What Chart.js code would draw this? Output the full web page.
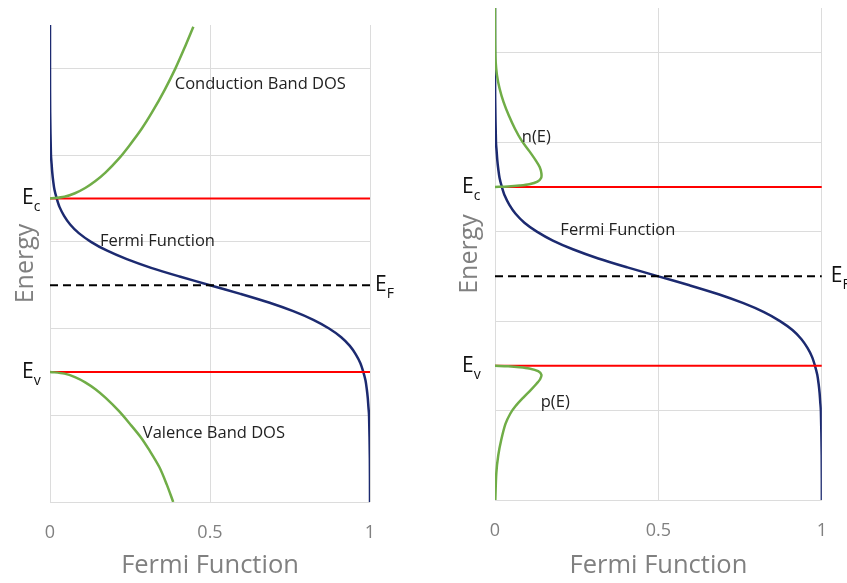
<!DOCTYPE html>
<html>
<head>
<meta charset="utf-8">
<title>Fermi Function</title>
<script src="https://cdn.jsdelivr.net/npm/chart.js@4.4.1/dist/chart.umd.min.js"></script>
<style>
  html, body { margin: 0; padding: 0; background: #fff; }
  #wrap { position: relative; width: 847px; height: 583px; overflow: hidden; }
  .box { position: absolute; top: 0; height: 583px; }
</style>
</head>
<body>
<div id="wrap">
  <div class="box" style="left:0;width:420px"><canvas id="leftChart"></canvas></div>
  <div class="box" style="left:430px;width:417px"><canvas id="rightChart"></canvas></div>
</div>
<script>
// ---- data (energy in grid units, 0 = bottom) ----
const xTickValues = [0, 0.5, 1];
const yGridValues = [0, 1, 2, 3, 4, 5];

const levelEc = 3.5;
const levelEF = 2.5;
const levelEv = 1.5;

// Fermi function (same curve in both panels)
const fermiEnergy = [5.5, 5.0, 4.5, 4.0, 3.9, 3.8, 3.7, 3.6, 3.5, 3.4, 3.3, 3.2, 3.1, 3.0, 2.9, 2.8, 2.7, 2.6, 2.5,
                     2.4, 2.3, 2.2, 2.1, 2.0, 1.9, 1.8, 1.7, 1.6, 1.5, 1.4, 1.3, 1.2, 1.1, 1.0, 0.5, 0];
const fermiValue  = [0, 0, 0.0005, 0.003, 0.005, 0.007, 0.01, 0.014, 0.021, 0.03, 0.044, 0.063, 0.09, 0.128, 0.177, 0.24, 0.316, 0.405, 0.5,
                     0.595, 0.684, 0.76, 0.823, 0.872, 0.91, 0.937, 0.956, 0.97, 0.979, 0.986, 0.99, 0.993, 0.995, 0.997, 0.9995, 1];

// left panel: band densities of states
const cbEnergy = [3.5, 3.52, 3.56, 3.62, 3.7, 3.8, 3.95, 4.1, 4.3, 4.5, 4.75, 5.0, 5.25, 5.48];
const cbDos    = [0, 0.045, 0.078, 0.11, 0.142, 0.174, 0.213, 0.246, 0.286, 0.32, 0.358, 0.392, 0.422, 0.448];
const vbEnergy = [1.5, 1.48, 1.44, 1.38, 1.3, 1.2, 1.05, 0.9, 0.75, 0.6, 0.4, 0.2, 0];
const vbDos    = [0, 0.045, 0.078, 0.11, 0.142, 0.174, 0.215, 0.25, 0.283, 0.31, 0.342, 0.365, 0.385];

// right panel: carrier densities
const nEnergy = [5.5, 5.1, 4.9, 4.75, 4.6, 4.45, 4.3, 4.15, 4.02, 3.9, 3.8, 3.72, 3.65, 3.6, 3.56, 3.53, 3.515, 3.505, 3.5];
const nValue  = [0, 0.0005, 0.002, 0.006, 0.014, 0.026, 0.042, 0.061, 0.081, 0.105, 0.124, 0.137, 0.142, 0.141, 0.13, 0.105, 0.075, 0.04, 0];
const pEnergy = [1.5, 1.495, 1.485, 1.47, 1.44, 1.4, 1.35, 1.3, 1.22, 1.15, 1.05, 0.967, 0.85, 0.67, 0.5, 0.3, 0];
const pValue  = [0, 0.04, 0.075, 0.105, 0.132, 0.142, 0.138, 0.127, 0.107, 0.088, 0.063, 0.047, 0.032, 0.019, 0.01, 0.004, 0.001];

const NAVY = '#1c2a70';
const GREEN = '#70ad47';
const RED = '#ff0000';
const GRID = '#dcdcdc';
const GREY_TEXT = '#808080';

function pts(xs, ys) {
  return ys.map((e, i) => ({ x: xs[i], y: e }));
}

function curve(xs, ys, color, width) {
  return { data: pts(xs, ys), borderColor: color, borderWidth: width, showLine: true,
           pointRadius: 0, tension: 0.3, fill: false };
}

function level(e, color, dash) {
  return { data: [{ x: 0, y: e }, { x: 1, y: e }], borderColor: color, borderWidth: 2,
           borderDash: dash || [], showLine: true, pointRadius: 0, fill: false };
}

// draws E_c / E_F / E_v and the in-plot notes
function labelPlugin(cfg) {
  return {
    id: 'labels',
    afterDatasetsDraw(chart) {
      const ctx = chart.ctx;
      const xs = chart.scales.x, ys = chart.scales.y;
      const area = chart.chartArea;
      ctx.save();
      ctx.fillStyle = '#111';
      ctx.textBaseline = 'middle';
      ctx.textAlign = 'left';

      function sub(main, small, x, y) {
        ctx.font = '21px "Open Sans"';
        ctx.fillText(main, x, y);
        const w = ctx.measureText(main).width;
        ctx.font = '14px "Open Sans"';
        ctx.fillText(small, x + w, y + 9);
      }
      sub('E', 'c', area.left - cfg.levelGap, ys.getPixelForValue(levelEc));
      sub('E', 'v', area.left - cfg.levelGap, ys.getPixelForValue(levelEv));
      sub('E', 'F', area.right + cfg.efGap, ys.getPixelForValue(levelEF));

      ctx.fillStyle = '#222';
      ctx.font = '16.5px "Open Sans"';
      cfg.notes.forEach(n => {
        ctx.fillText(n.text, xs.getPixelForValue(n.x), ys.getPixelForValue(n.y));
      });
      ctx.restore();
    }
  };
}

function buildOptions(cfg) {
  return {
    responsive: true,
    maintainAspectRatio: false,
    animation: false,
    layout: { padding: { top: cfg.top, right: cfg.right, left: 0, bottom: 0 } },
    plugins: { legend: { display: false }, tooltip: { enabled: false } },
    scales: {
      x: {
        type: 'linear', min: 0, max: 1,
        afterBuildTicks: s => { s.ticks = xTickValues.map(v => ({ value: v })); },
        afterFit: s => { s.height = cfg.xHeight; },
        grid: { color: GRID, drawTicks: false },
        border: { display: false },
        ticks: { color: GREY_TEXT, font: { family: 'Open Sans', size: 18 }, padding: 20,
                 callback: v => String(v) },
        title: { display: true, text: 'Fermi Function', color: GREY_TEXT,
                 font: { family: 'Open Sans', size: 25.5 }, padding: { top: 0, bottom: 2 } }
      },
      y: {
        type: 'linear', min: 0, max: 5.5,
        afterBuildTicks: s => { s.ticks = yGridValues.map(v => ({ value: v })); },
        afterFit: s => { s.width = cfg.yWidth; },
        grid: { color: GRID, drawTicks: false },
        border: { display: false },
        ticks: { display: false },
        title: { display: true, text: 'Energy', color: GREY_TEXT,
                 font: { family: 'Open Sans', size: 25 }, padding: { top: cfg.titlePad, bottom: 0 } }
      }
    }
  };
}

const leftCfg = {
  top: 25, right: 50, xHeight: 81, yWidth: 50, titlePad: 11, levelGap: 28, efGap: 5,
  notes: [
    { text: 'Conduction Band DOS', x: 0.39, y: 4.82 },
    { text: 'Fermi Function', x: 0.156, y: 3.01 },
    { text: 'Valence Band DOS', x: 0.29, y: 0.79 }
  ]
};

const rightCfg = {
  top: 8, right: 23, xHeight: 83, yWidth: 65, titlePad: 25, levelGap: 33, efGap: 9,
  notes: [
    { text: 'n(E)', x: 0.082, y: 4.05 },
    { text: 'Fermi Function', x: 0.2, y: 3.01 },
    { text: 'p(E)', x: 0.14, y: 1.09 }
  ]
};

new Chart(document.getElementById('leftChart'), {
  type: 'scatter',
  data: {
    datasets: [
      curve(cbDos, cbEnergy, GREEN, 2.5),
      curve(vbDos, vbEnergy, GREEN, 2.5),
      level(levelEc, RED),
      level(levelEv, RED),
      level(levelEF, '#000', [8, 5]),
      curve(fermiValue, fermiEnergy, NAVY, 2.5)
    ]
  },
  options: buildOptions(leftCfg),
  plugins: [labelPlugin(leftCfg)]
});

new Chart(document.getElementById('rightChart'), {
  type: 'scatter',
  data: {
    datasets: [
      curve(nValue, nEnergy, GREEN, 2.5),
      curve(pValue, pEnergy, GREEN, 2.5),
      level(levelEc, RED),
      level(levelEv, RED),
      level(levelEF, '#000', [8, 5]),
      curve(fermiValue, fermiEnergy, NAVY, 2.5)
    ]
  },
  options: buildOptions(rightCfg),
  plugins: [labelPlugin(rightCfg)]
});
</script>
</body>
</html>
